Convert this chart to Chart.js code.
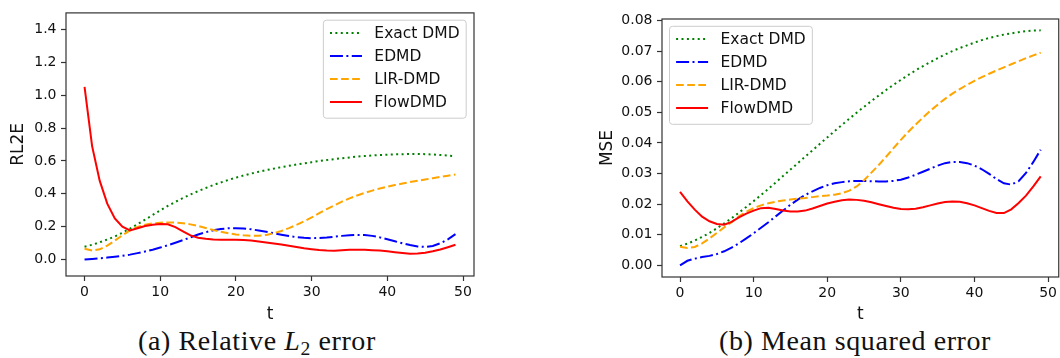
<!DOCTYPE html>
<html>
<head>
<meta charset="utf-8">
<script src="https://cdn.jsdelivr.net/npm/chart.js@4.4.1/dist/chart.umd.min.js"></script>
<style>
  body { margin: 0; background: #fff; width: 1060px; height: 358px; overflow: hidden; position: relative; }
  canvas { position: absolute; top: 0; }
  #c1 { left: 0; }
  #c2 { left: 530px; }
  .cap { position: absolute; top: 325px; font-family: "Liberation Serif", serif; font-size: 28px; letter-spacing: 0.6px; color: #111; white-space: nowrap; transform: translateX(-50%); }
  .cap sub { font-size: 0.7em; vertical-align: -0.25em; }
</style>
</head>
<body>
<canvas id="c1" width="530" height="325"></canvas>
<canvas id="c2" width="530" height="325"></canvas>
<div class="cap" style="left:257px">(a) Relative <i>L</i><sub>2</sub> error</div>
<div class="cap" style="left:855px">(b) Mean squared error</div>
<script>
Chart.defaults.font.family = "DejaVu Sans";
Chart.defaults.color = "#111";

const labels = ["Exact DMD", "EDMD", "LIR-DMD", "FlowDMD"];
const t = Array.from({ length: 50 }, (_, i) => i);
const xTicks = [0, 10, 20, 30, 40, 50];
const yTicksL = [0, 0.2, 0.4, 0.6, 0.8, 1.0, 1.2, 1.4];
const yTicksR = [0, 0.01, 0.02, 0.03, 0.04, 0.05, 0.06, 0.07, 0.08];

// (a) relative L2 error
const exactL = [0.078,0.09,0.105,0.122,0.14,0.163,0.188,0.215,0.243,0.271,0.299,0.326,0.351,0.374,0.396,0.416,0.435,0.453,0.469,0.484,0.498,0.511,0.523,0.534,0.544,0.553,0.562,0.57,0.578,0.585,0.592,0.599,0.605,0.611,0.616,0.621,0.626,0.63,0.633,0.636,0.638,0.64,0.641,0.642,0.642,0.641,0.639,0.636,0.632,0.628];
const edmdL = [0.0,0.004,0.008,0.012,0.017,0.023,0.03,0.039,0.049,0.06,0.073,0.087,0.102,0.118,0.135,0.152,0.166,0.178,0.186,0.19,0.191,0.189,0.184,0.177,0.169,0.16,0.151,0.143,0.136,0.132,0.13,0.131,0.134,0.139,0.144,0.148,0.15,0.149,0.144,0.135,0.123,0.111,0.099,0.088,0.08,0.077,0.083,0.099,0.123,0.155];
const lirL = [0.066,0.055,0.062,0.085,0.115,0.148,0.177,0.198,0.212,0.22,0.224,0.226,0.225,0.221,0.214,0.204,0.192,0.18,0.169,0.16,0.153,0.148,0.145,0.145,0.15,0.16,0.174,0.191,0.211,0.233,0.256,0.282,0.307,0.33,0.352,0.372,0.39,0.405,0.419,0.432,0.443,0.453,0.462,0.471,0.479,0.487,0.495,0.503,0.51,0.517];
const flowL = [1.05,0.69,0.48,0.34,0.25,0.2,0.177,0.19,0.204,0.212,0.216,0.215,0.197,0.172,0.147,0.133,0.126,0.122,0.121,0.121,0.121,0.119,0.116,0.11,0.104,0.098,0.091,0.084,0.077,0.069,0.063,0.058,0.055,0.054,0.056,0.059,0.06,0.059,0.057,0.055,0.05,0.045,0.04,0.036,0.037,0.042,0.05,0.061,0.075,0.09];

// (b) mean squared error
const exactR = [0.0063,0.0071,0.0081,0.0093,0.0106,0.0121,0.0137,0.0154,0.0172,0.0191,0.021,0.023,0.025,0.0271,0.0292,0.0313,0.0334,0.0355,0.0376,0.0397,0.0418,0.0439,0.0459,0.0479,0.0499,0.0518,0.0537,0.0555,0.0573,0.059,0.0606,0.0622,0.0637,0.0651,0.0664,0.0677,0.0689,0.07,0.071,0.0719,0.0728,0.0736,0.0743,0.0749,0.0754,0.0758,0.0762,0.0765,0.0767,0.0768];
const edmdR = [0.0,0.0015,0.0022,0.0027,0.0031,0.0037,0.0046,0.0058,0.0072,0.0088,0.0105,0.0123,0.0141,0.016,0.0179,0.0198,0.0215,0.023,0.0242,0.0253,0.0262,0.0268,0.0272,0.0275,0.0276,0.0276,0.0275,0.0274,0.0274,0.0276,0.028,0.0287,0.0296,0.0306,0.0316,0.0326,0.0334,0.0338,0.0338,0.0334,0.0326,0.0314,0.0299,0.0282,0.0268,0.0264,0.0275,0.0302,0.0338,0.0378];
const lirR = [0.0061,0.0057,0.006,0.0072,0.0088,0.0106,0.0124,0.0141,0.016,0.0175,0.0187,0.0196,0.0203,0.0208,0.0212,0.0215,0.0218,0.022,0.0223,0.0226,0.0228,0.0231,0.0236,0.0244,0.0258,0.0278,0.0303,0.0328,0.0355,0.0383,0.041,0.0436,0.046,0.0483,0.0505,0.0525,0.0544,0.0561,0.0576,0.059,0.0603,0.0615,0.0626,0.0637,0.0647,0.0657,0.0667,0.0677,0.0686,0.0695];
const flowR = [0.024,0.0209,0.0182,0.0159,0.0144,0.0135,0.0133,0.0142,0.0157,0.0169,0.0179,0.0187,0.0188,0.0184,0.0179,0.0176,0.0176,0.0179,0.0186,0.0194,0.0202,0.0208,0.0213,0.0215,0.0214,0.0211,0.0206,0.02,0.0194,0.0188,0.0184,0.0183,0.0185,0.019,0.0196,0.0202,0.0207,0.0209,0.0208,0.0203,0.0196,0.0187,0.0178,0.0171,0.0171,0.0183,0.0204,0.0228,0.0258,0.0291];

const colors = ["#008000", "#0000ff", "#ffa500", "#ff0000"];
const dashes = [[2, 3.4], [13, 3.4, 2, 3.4], [7.7, 3.4], []];

function makeSets(series) {
  return series.map((vals, i) => ({
    label: labels[i],
    data: vals.map((v, k) => ({ x: t[k], y: v })),
    borderColor: colors[i],
    borderDash: dashes[i],
    borderWidth: 2,
    borderCapStyle: "butt",
    pointRadius: 0,
    tension: 0,
    fill: false,
    order: 3 - i,
  }));
}

// matplotlib style frame + legend box
const frameLegend = {
  id: "frameLegend",
  afterDatasetsDraw(chart, args, opts) {
    const { ctx, chartArea: a } = chart;
    ctx.save();
    ctx.strokeStyle = "#333";
    ctx.lineWidth = 1.2;
    ctx.strokeRect(a.left, a.top, a.right - a.left, a.bottom - a.top);

    ctx.font = "15.5px DejaVu Sans";
    const tw = Math.max(...labels.map((l) => ctx.measureText(l).width));
    const w = 6.6 + 32 + 12.4 + tw + 6.6;
    const h = 98;
    const x = opts.side === "right" ? a.right - 7.8 - w : a.left + 7.5;
    const y = a.top + 7.3;
    ctx.beginPath();
    ctx.roundRect(x, y, w, h, 3);
    ctx.fillStyle = "rgba(255,255,255,0.8)";
    ctx.fill();
    ctx.strokeStyle = "#cccccc";
    ctx.lineWidth = 1;
    ctx.stroke();

    chart.data.datasets.forEach((ds, i) => {
      const yy = y + 12.8 + i * 23;
      ctx.beginPath();
      ctx.setLineDash(ds.borderDash);
      ctx.lineCap = "butt";
      ctx.strokeStyle = ds.borderColor;
      ctx.lineWidth = 2;
      ctx.moveTo(x + 6.6, yy);
      ctx.lineTo(x + 6.6 + 32, yy);
      ctx.stroke();
      ctx.setLineDash([]);
      ctx.fillStyle = "#111";
      ctx.textBaseline = "middle";
      ctx.textAlign = "left";
      ctx.fillText(ds.label, x + 6.6 + 32 + 12.4, yy + 1);
    });
    ctx.restore();
  },
};

function makeChart(id, series, yMin, yMax, yTicks, yDigits, yTitle, fit, legendSide) {
  return new Chart(document.getElementById(id), {
    type: "line",
    data: { datasets: makeSets(series) },
    plugins: [frameLegend],
    options: {
      responsive: false,
      animation: false,
      layout: { padding: { left: 0, top: fit.top, right: fit.right, bottom: 0 } },
      plugins: {
        legend: { display: false },
        tooltip: { enabled: false },
        frameLegend: { side: legendSide },
      },
      scales: {
        x: {
          type: "linear",
          min: -2.45,
          max: 51.45,
          afterBuildTicks: (s) => { s.ticks = xTicks.map((v) => ({ value: v })); },
          afterFit: (s) => { s.height = fit.xh; },
          border: { display: false },
          grid: { drawOnChartArea: false, drawTicks: true, tickLength: 5, tickColor: "#333", tickWidth: 1.2 },
          ticks: { font: { size: 14 }, padding: 3, color: "#111", maxRotation: 0, callback: (v) => String(v) },
          title: { display: true, text: "t", font: { size: 17 }, color: "#111", padding: { top: 0, bottom: 0 } },
        },
        y: {
          min: yMin,
          max: yMax,
          afterBuildTicks: (s) => { s.ticks = yTicks.map((v) => ({ value: v })); },
          afterFit: (s) => { s.width = fit.yw; },
          border: { display: false },
          grid: { drawOnChartArea: false, drawTicks: true, tickLength: 5, tickColor: "#333", tickWidth: 1.2 },
          ticks: { font: { size: 14 }, padding: 4.5, color: "#111", callback: (v) => Number(v).toFixed(yDigits) },
          title: { display: true, text: yTitle, font: { size: 17 }, color: "#111", padding: { top: fit.tp, bottom: 0 } },
        },
      },
    },
  });
}

makeChart("c1", [exactL, edmdL, lirL, flowL], -0.1, 1.5, yTicksL, 1, "RL2E",
  { top: 12, right: 56, xh: 49, yw: 66, tp: 8.5 }, "right");
makeChart("c2", [exactR, edmdR, lirR, flowR], -0.0038, 0.0805, yTicksR, 2, "MSE",
  { top: 19, right: 1, xh: 48, yw: 132, tp: 67 }, "left");
</script>
</body>
</html>
